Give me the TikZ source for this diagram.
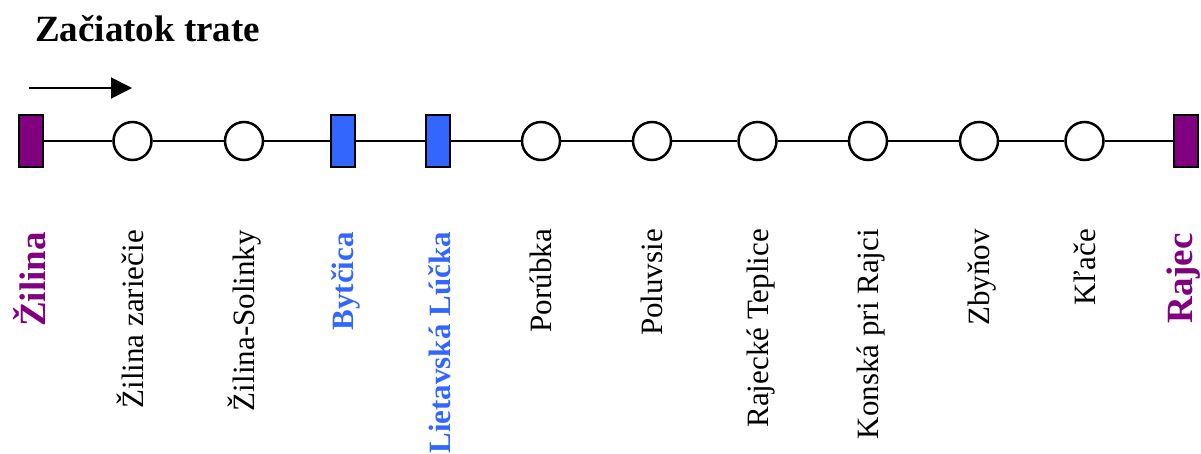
\documentclass[tikz,border=0pt]{standalone}
\usepackage{fontspec}
\setmainfont{Liberation Serif}
\usetikzlibrary{arrows.meta}
\definecolor{endpurple}{RGB}{128,0,128}
\definecolor{haltblue}{RGB}{51,102,255}

\begin{document}
\begin{tikzpicture}[x=1pt,y=-1pt,
  terminus/.style={draw, line width=2.5pt, fill=endpurple, minimum width=24pt, minimum height=52pt, inner sep=0pt},
  halt/.style={draw, line width=2.5pt, fill=haltblue, minimum width=24pt, minimum height=52pt, inner sep=0pt},
  stop/.style={circle, draw, line width=2.5pt, fill=white, minimum size=38pt, inner sep=0pt},
  track/.style={line width=2.5pt},
  lbl/.style={rotate=90, anchor=base east, inner sep=0pt, font=\fontsize{31}{31}\selectfont},
  blbl/.style={lbl, font=\fontsize{31}{31}\selectfont\bfseries, text=haltblue},
  plbl/.style={lbl, font=\fontsize{37}{37}\selectfont\bfseries, text=endpurple}
]
\useasboundingbox (0,0) rectangle (1201,453);

% heading and direction of travel
\node[anchor=base west, inner sep=0pt, font=\fontsize{37}{37}\selectfont\bfseries] (title) at (35,41) {Začiatok trate};
\coordinate (dirA) at (29,88);
\coordinate (dirB) at (132,88);
\draw[line width=2pt, -{Triangle[length=21pt,width=21pt]}] (dirA) -- (dirB);

% stations along the line
\node[terminus] (s0)  at (31,141)   {};
\node[stop]     (s1)  at (132.5,141) {};
\node[stop]     (s2)  at (244,141)  {};
\node[halt]     (s3)  at (343,141)  {};
\node[halt]     (s4)  at (438,141)  {};
\node[stop]     (s5)  at (541,141)  {};
\node[stop]     (s6)  at (652,141)  {};
\node[stop]     (s7)  at (757.5,141) {};
\node[stop]     (s8)  at (868,141)  {};
\node[stop]     (s9)  at (979,141)  {};
\node[stop]     (s10) at (1084.5,141) {};
\node[terminus] (s11) at (1186,141) {};

% track segments
\foreach \a/\b in {s0/s1,s1/s2,s2/s3,s3/s4,s4/s5,s5/s6,s6/s7,s7/s8,s8/s9,s9/s10,s10/s11}
  \draw[track] (\a) -- (\b);

% station names
\node[plbl] (n0)  at (45,232)    {Žilina};
\node[lbl]  (n1)  at (143,230)   {Žilina zariečie};
\node[lbl]  (n2)  at (254.5,230) {Žilina-Solinky};
\node[blbl] (n3)  at (353,232)   {Bytčica};
\node[blbl] (n4)  at (450,232)   {Lietavská Lúčka};
\node[lbl]  (n5)  at (551.5,229) {Porúbka};
\node[lbl]  (n6)  at (662,229)   {Poluvsie};
\node[lbl]  (n7)  at (768,229)   {Rajecké Teplice};
\node[lbl]  (n8)  at (878.5,229) {Konská pri Rajci};
\node[lbl]  (n9)  at (989.5,229) {Zbyňov};
\node[lbl]  (n10) at (1095,229)  {Kľače};
\node[plbl] (n11) at (1192,233)  {Rajec};
\end{tikzpicture}
\end{document}
